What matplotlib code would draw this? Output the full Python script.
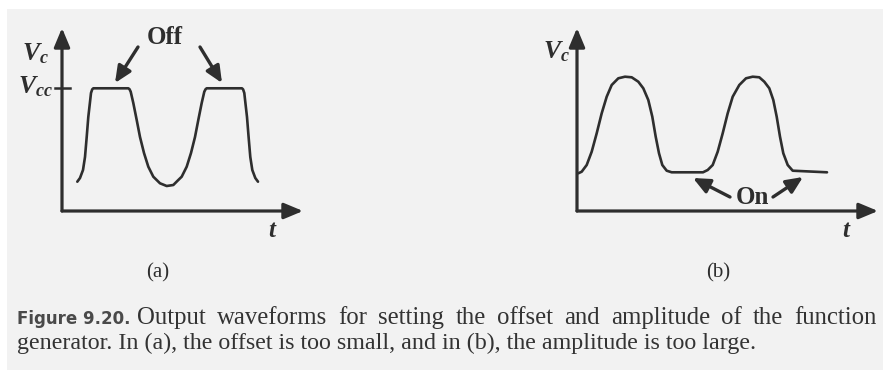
import matplotlib
matplotlib.use("Agg")
import matplotlib.pyplot as plt
from matplotlib.patches import Rectangle

plt.rcParams['mathtext.fontset'] = 'custom'
plt.rcParams['mathtext.it'] = 'Liberation Serif:italic:bold'
plt.rcParams['mathtext.rm'] = 'Liberation Serif:bold'

W, H = 883, 373
INK = '#2e2e2e'

# ---- data (t, V in arbitrary units) ----
# (a): offset too small -> tops clipped at Vcc
t_a = [15.3, 18, 21, 23, 24.7, 26.3, 28, 29, 30.2, 31.3,
       66.3, 67.5, 68.7, 71.3, 74.7, 78, 82, 86.3, 91.3, 98, 104.7, 111.3, 116.3,
       119.7, 124.7, 129, 133, 136.3, 139.7, 142.3, 143.6, 144.7,
       180, 181.1, 182.3, 183.3, 185, 186.6, 188.3, 190.3, 193.3, 196]
V_a = [29.3, 33, 41, 54, 74, 94, 109, 118, 121.6, 122.7,
       122.7, 121.8, 119.3, 108, 91, 74, 58, 44.3, 34.3, 27.7, 25, 26, 31,
       34.3, 44.3, 58, 74, 91, 108, 119.3, 121.8, 122.7,
       122.7, 121.6, 118, 109, 94, 74, 54, 41, 33, 29.3]
Vcc = 122.7

# (b): amplitude too large -> bottoms clipped
t_b = [1.3, 4.7, 9.7, 14.7, 19.7, 24.7, 29.7, 34.7, 41.3, 48, 54.7, 61.3, 66.3,
       71.3, 75.3, 78.7, 82, 85.3, 89.7, 94.7,
       126, 130.7, 135.7, 140.7, 145.7, 150.7, 155.7, 162.3, 169, 175.7, 182.3, 187.3,
       192.3, 196.3, 199.7, 203, 206.3, 210.7, 215.7, 250]
V_b = [37.7, 39.3, 46, 59.3, 77.7, 97.7, 114.3, 126, 132.7, 134.3, 133.7, 129.3, 122.7,
       111, 94.3, 74.3, 57.7, 46, 40.3, 38.7,
       38.7, 41, 46, 59.3, 77.7, 97.7, 114.3, 126, 132.7, 134.3, 133.7, 129.3, 122.7,
       111, 94.3, 74.3, 57.7, 46, 40.3, 38.7]

panel_labels = ['(a)', '(b)']
off_label = 'Off'
on_label = 'On'
caption_head = 'Figure 9.20.'
caption_line1 = 'Output waveforms for setting the offset and amplitude of the function'
caption_line2 = 'generator. In (a), the offset is too small, and in (b), the amplitude is too large.'

fig = plt.figure(figsize=(W / 100, H / 100), dpi=100)
fig.patch.set_facecolor('white')
# scanned page tone
fig.add_artist(Rectangle((7 / W, 3 / H), 1, (H - 12) / H, transform=fig.transFigure,
                         facecolor='#f2f2f2', edgecolor='none', zorder=-10))


def make_axes(x0, x1, y_top, y_bot, xmax, ymax):
    ax = fig.add_axes([x0 / W, (H - y_bot) / H, (x1 - x0) / W, (y_bot - y_top) / H])
    ax.set_xlim(0, xmax)
    ax.set_ylim(0, ymax)
    ax.axis('off')
    ax.patch.set_alpha(0)
    for xy in [(1, 0), (0, 1)]:
        ax.annotate('', xy=xy, xytext=(0, 0), xycoords='axes fraction',
                    arrowprops=dict(arrowstyle='-|>,head_length=1.15,head_width=0.48',
                                    color=INK, lw=2.3, shrinkA=0, shrinkB=0))
    return ax


def arrow(ax, x0, y0, x1, y1):
    ax.annotate('', xy=(x1, y1), xytext=(x0, y0), xycoords='data',
                arrowprops=dict(arrowstyle='-|>,head_length=1.0,head_width=0.45',
                                color=INK, lw=2.4, shrinkA=0, shrinkB=0))


# ---------------- panel (a) ----------------
axa = make_axes(62, 303, 28, 211, 241, 183)
axa.plot(t_a, V_a, color=INK, lw=1.9, solid_joinstyle='round', solid_capstyle='round')
axa.plot([-7, 8], [Vcc, Vcc], color=INK, lw=1.8, clip_on=False)
axa.text(-27, 158, r'$V_c$', fontsize=18.5, color=INK, ha='center', va='center')
axa.text(-27, 125, r'$V_{cc}$', fontsize=18.5, color=INK, ha='center', va='center')
axa.text(211, -19, r'$t$', fontsize=18, color=INK, ha='center', va='center')
axa.text(96, -62, panel_labels[0], fontsize=15, color=INK, ha='center', va='center',
         family='Liberation Serif')
axa.text(103, 173, off_label, fontsize=18, color=INK, ha='center', va='center',
         family='Liberation Serif', weight='bold')
arrow(axa, 76, 164, 53, 128)
arrow(axa, 138, 164, 160, 128)

# ---------------- panel (b) ----------------
axb = make_axes(577, 878, 28, 211, 301, 183)
axb.plot(t_b, V_b, color=INK, lw=1.9, solid_joinstyle='round', solid_capstyle='round')
axb.text(-21, 160, r'$V_c$', fontsize=18.5, color=INK, ha='center', va='center')
axb.text(270, -19, r'$t$', fontsize=18, color=INK, ha='center', va='center')
axb.text(141, -62, panel_labels[1], fontsize=15, color=INK, ha='center', va='center',
         family='Liberation Serif')
axb.text(175, 14, on_label, fontsize=18, color=INK, ha='center', va='center',
         family='Liberation Serif', weight='bold')
arrow(axb, 153, 14, 116, 33)
arrow(axb, 196, 14, 226, 34)

# ---------------- caption ----------------
renderer = fig.canvas.get_renderer()
y1 = 1 - 324 / H
y2 = 1 - 349 / H
head = fig.text(17 / W, y1, caption_head, fontsize=12, weight='bold',
                family='DejaVu Sans', color='#4a4a4a', ha='left', va='baseline')

# justified first line: words spread between x=137 and x=877 px
words = caption_line1.split(' ')
wtexts = [fig.text(0, y1, w, fontsize=17.8, family='Liberation Serif',
                   color='#333333', ha='left', va='baseline') for w in words]
widths = [t.get_window_extent(renderer).width for t in wtexts]
left_px, right_px = 137.0, 877.0
gap = (right_px - left_px - sum(widths)) / (len(words) - 1)
x = left_px
for t, wd in zip(wtexts, widths):
    t.set_x(x / W)
    x += wd + gap

fig.text(17 / W, y2, caption_line2, fontsize=17.3, family='Liberation Serif',
         color='#333333', ha='left', va='baseline')

fig.savefig('out.png', dpi=100, facecolor=fig.get_facecolor())
